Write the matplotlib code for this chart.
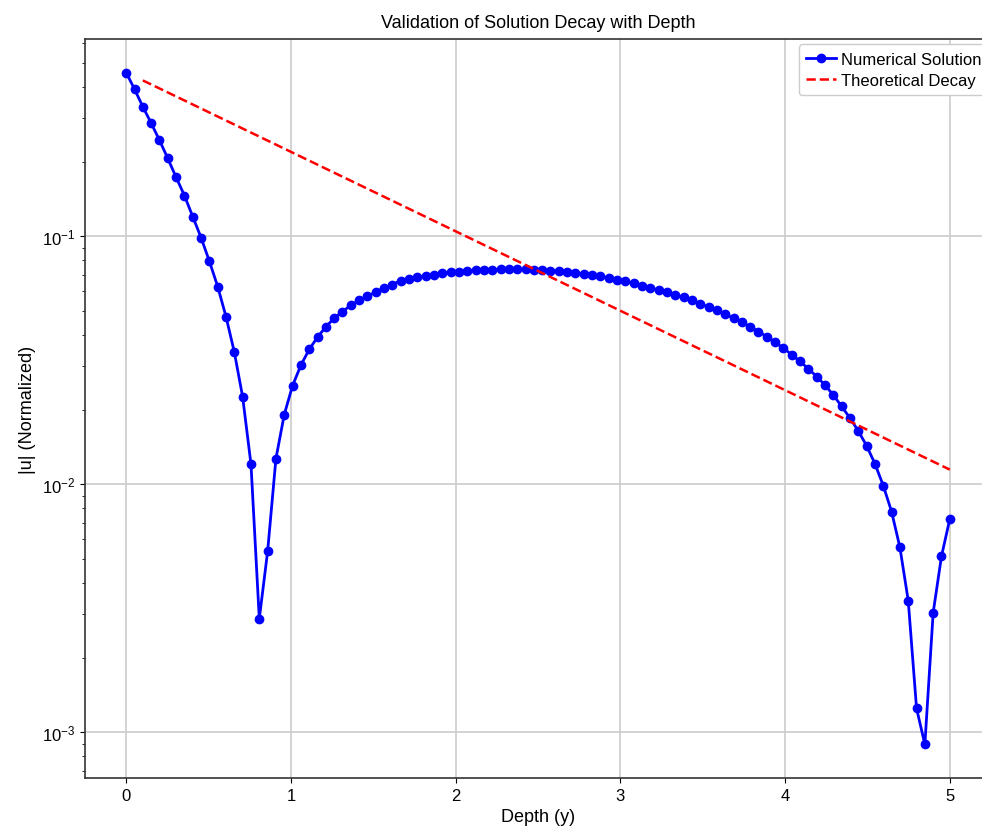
import numpy as np
import matplotlib
matplotlib.use("Agg")
import matplotlib.pyplot as plt

plt.rcParams['font.family'] = ['Liberation Sans', 'DejaVu Sans']
plt.rcParams['mathtext.fontset'] = 'custom'
plt.rcParams['mathtext.rm'] = 'Liberation Sans'
plt.rcParams['mathtext.it'] = 'Liberation Sans'
plt.rcParams['mathtext.bf'] = 'Liberation Sans'
plt.rcParams['axes.unicode_minus'] = False

# Depth grid (100 samples from 0 to 5)
depth = np.linspace(0, 5, 100)

# Pixel-read values of the normalized numerical solution |u|
numerical = [
    0.457, 0.392, 0.333, 0.286, 0.244, 0.206, 0.173, 0.146, 0.120, 0.0988,
    0.0793, 0.0627, 0.0474, 0.0341, 0.0225, 0.01205, 0.00287, 0.00536, 0.0127, 0.0191,
    0.0250, 0.0302, 0.0350, 0.0392, 0.0432, 0.0467, 0.0497, 0.0527, 0.0552, 0.0574,
    0.0596, 0.0619, 0.0639, 0.0663, 0.0675, 0.0684, 0.0692, 0.0701, 0.0709, 0.0716,
    0.0721, 0.0725, 0.0730, 0.0731, 0.0734, 0.0736, 0.0736, 0.0736, 0.0736, 0.0731,
    0.0731, 0.0727, 0.0723, 0.0718, 0.0711, 0.0705, 0.0698, 0.0690, 0.0679, 0.0669,
    0.0658, 0.0646, 0.0633, 0.0619, 0.0607, 0.0594, 0.0580, 0.0567, 0.0552, 0.0534,
    0.0519, 0.0503, 0.0485, 0.0467, 0.0450, 0.0432, 0.0413, 0.0394, 0.0374, 0.0354,
    0.0333, 0.0313, 0.0292, 0.0272, 0.0251, 0.0229, 0.0206, 0.0185, 0.0164, 0.0143,
    0.0121, 0.00988, 0.00776, 0.00557, 0.00340, 0.00125, 0.000894, 0.00304, 0.00513, 0.00725,
]

# Theoretical exponential decay (straight on log axis): endpoints
theory_depth = [0.101, 5.0]
theory_u = [0.425, 0.01146]

fig = plt.figure(figsize=(9.82, 8.28), dpi=100)
ax = fig.add_axes([85/982, 49/828, 906/982, 739/828])

ax.plot(depth, numerical, '-o', color='blue', lw=2, ms=6, label='Numerical Solution')
ax.plot(theory_depth, theory_u, '--', color='red', lw=1.8, label='Theoretical Decay')
ax.set_yscale('log')
ax.set_xlim(-0.25, 5.25)

ax.grid(True, which='major', color='#cccccc', lw=1.2)
ax.set_axisbelow(True)
for s in ax.spines.values():
    s.set_color('#333333')
    s.set_linewidth(1.2)

ax.tick_params(labelsize=12)
ax.set_xlabel('Depth (y)', fontsize=13)
ax.set_ylabel('|u| (Normalized)', fontsize=13)
ax.set_title('Validation of Solution Decay with Depth', fontsize=13, pad=9)
ax.legend(loc='upper right', fontsize=12, framealpha=1, edgecolor='#cccccc',
          handlelength=1.8, handletextpad=0.3, labelspacing=0.35,
          borderaxespad=0.1, borderpad=0.45, bbox_to_anchor=(1.0, 0.995))

fig.savefig('out.png', dpi=100)
